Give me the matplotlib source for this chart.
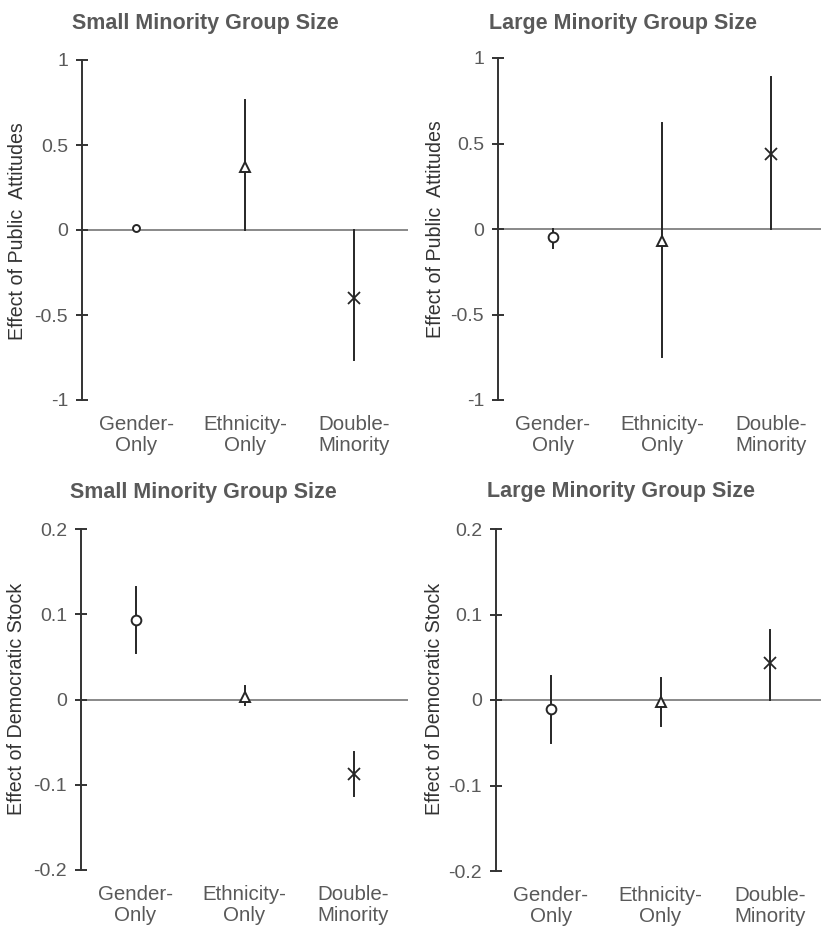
import matplotlib
matplotlib.use("Agg")
import matplotlib.pyplot as plt

plt.rcParams['font.family'] = ['Liberation Sans', 'DejaVu Sans']

categories = ["Gender-\nOnly", "Ethnicity-\nOnly", "Double-\nMinority"]
markers = ["o", "^", "x"]

titles = ["Small Minority Group Size", "Large Minority Group Size",
          "Small Minority Group Size", "Large Minority Group Size"]
ylabels = ["Effect of Public  Attitudes", "Effect of Public  Attitudes",
           "Effect of Democratic Stock", "Effect of Democratic Stock"]

# point estimates and CI bounds per panel
tl_est = [0.014, 0.37, -0.40]
tl_lo = [0.0, 0.0, -0.765]
tl_hi = [0.025, 0.765, 0.0]

tr_est = [-0.045, -0.07, 0.44]
tr_lo = [-0.11, -0.75, 0.0]
tr_hi = [0.0, 0.62, 0.89]

bl_est = [0.093, 0.003, -0.087]
bl_lo = [0.055, -0.006, -0.113]
bl_hi = [0.132, 0.016, -0.062]

br_est = [-0.010, -0.002, 0.043]
br_lo = [-0.050, -0.030, 0.0]
br_hi = [0.028, 0.026, 0.082]

ests = [tl_est, tr_est, bl_est, br_est]
los = [tl_lo, tr_lo, bl_lo, br_lo]
his = [tl_hi, tr_hi, bl_hi, br_hi]
yticks_top = [-1, -0.5, 0, 0.5, 1]
yticklabels_top = ["-1", "-0.5", "0", "0.5", "1"]
yticks_bot = [-0.2, -0.1, 0, 0.1, 0.2]
yticklabels_bot = ["-0.2", "-0.1", "0", "0.1", "0.2"]

W, H = 821, 926
fig = plt.figure(figsize=(W / 100, H / 100), dpi=100)

# (left, top, right, bottom) in pixels
boxes = [(82, 60, 408, 400), (498, 58, 826, 400),
         (81, 529, 408, 870), (496, 529, 825, 871)]
title_pos = [(205, 23), (623, 23), (203, 493), (621, 492)]
ylabel_pos = [(18, 231), (435, 229), (17, 699), (434, 699)]

mark_col = "#262626"
text_col = "#595959"

for i in range(4):
    l, t, r, b = boxes[i]
    ax = fig.add_axes([l / W, 1 - b / H, (r - l) / W, (b - t) / H])
    ax.set_xlim(0.5, 3.5)
    if i < 2:
        ax.set_ylim(-1, 1)
        ax.set_yticks(yticks_top)
        ax.set_yticklabels(yticklabels_top)
    else:
        ax.set_ylim(-0.2, 0.2)
        ax.set_yticks(yticks_bot)
        ax.set_yticklabels(yticklabels_bot)
    for s in ["top", "right", "bottom"]:
        ax.spines[s].set_visible(False)
    ax.spines["left"].set_color("#333333")
    ax.spines["left"].set_linewidth(1.4)
    ax.axhline(0, color="#808080", lw=1.3, zorder=1)
    ax.tick_params(axis="y", direction="inout", length=8, width=1.4,
                   color="#333333", labelsize=14, labelcolor=text_col, pad=6)
    ax.set_xticks([1, 2, 3])
    ax.set_xticklabels(categories)
    ax.tick_params(axis="x", length=0, labelsize=14.8, labelcolor=text_col, pad=11)
    for lab in ax.get_xticklabels():
        lab.set_linespacing(1.1)
    for j in range(3):
        x = j + 1
        ax.plot([x, x], [los[i][j], his[i][j]], color=mark_col, lw=1.4, zorder=2)
        ms = 5 if (i == 0 and j == 0) else 7
        if markers[j] == "x":
            ax.plot(x, ests[i][j], marker="x", ms=ms + 1, mec=mark_col, mew=1.3,
                    ls="none", zorder=3)
        else:
            ax.plot(x, ests[i][j], marker=markers[j], ms=ms, mfc="white",
                    mec=mark_col, mew=1.4, ls="none", zorder=3)
    tx, ty = title_pos[i]
    fig.text(tx / W, 1 - ty / H, titles[i], ha="center", va="center",
             fontsize=15.5, fontweight="bold", color=text_col)
    lx, ly = ylabel_pos[i]
    fig.text(lx / W, 1 - ly / H, ylabels[i], ha="center", va="center",
             rotation=90, fontsize=14.1, color="#333333")

fig.savefig("out.png", dpi=100)
